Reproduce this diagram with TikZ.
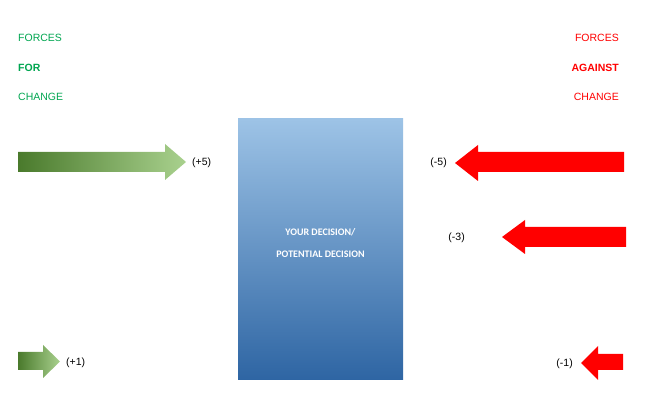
\documentclass[tikz,border=0pt]{standalone}
\usepackage{fontspec}
\setmainfont{Liberation Sans}
\newfontfamily\boxfont{Carlito}
\definecolor{fgreen}{HTML}{00A550}
\definecolor{fred}{HTML}{FF0000}
\definecolor{dkg}{HTML}{4A7A2C}
\definecolor{ltg}{HTML}{A9D18E}
\definecolor{topb}{HTML}{9DC3E6}
\definecolor{botb}{HTML}{2E65A3}
\begin{document}
\begin{tikzpicture}[x=1pt,y=-1pt,
  lbl/.style={inner sep=0pt,font=\fontsize{10.5}{12}\selectfont},
  gl/.style={lbl,text=fgreen,anchor=west},
  rl/.style={lbl,text=fred,anchor=east},
  garrow/.style={left color=dkg,right color=ltg,draw=none},
  rarrow/.style={fill=fred,draw=none}]
\useasboundingbox (0,0) rectangle (662,419);
\node[gl] (l1) at (18,38) {FORCES};
\node[gl,font=\fontsize{10.5}{12}\selectfont\bfseries] (l2) at (18,68) {FOR};
\node[gl] (l3) at (18,97) {CHANGE};
\node[rl] (r1) at (619,38) {FORCES};
\node[rl,font=\fontsize{10.5}{12}\selectfont\bfseries] (r2) at (619,68) {AGAINST};
\node[rl] (r3) at (619,97) {CHANGE};
\shade[top color=topb,bottom color=botb] (238,119) rectangle (403,380);
\node[text=white,font=\boxfont\bfseries\fontsize{10}{12}\selectfont,align=center] (dec) at (320.5,243)
  {YOUR DECISION/\\[10pt]POTENTIAL DECISION};
% green arrows
\path[garrow] (18,152) -- (165,152) -- (165,144) -- (186,162) -- (165,180) -- (165,172) -- (18,172) -- cycle;
\node[lbl,anchor=west] (p5) at (192,163) {(+5)};
\path[garrow] (18,352) -- (43,352) -- (43,345) -- (60,361.5) -- (43,378) -- (43,370) -- (18,370) -- cycle;
\node[lbl,anchor=west] (p1) at (66,363) {(+1)};
% red arrows
\path[rarrow] (624,152) -- (478,152) -- (478,145) -- (455,163) -- (478,181) -- (478,172) -- (624,172) -- cycle;
\node[lbl,anchor=east] (m5) at (447,163) {(-5)};
\path[rarrow] (626,227) -- (525,227) -- (525,220) -- (502,237) -- (525,254) -- (525,247) -- (626,247) -- cycle;
\node[lbl,anchor=east] (m3) at (465,238) {(-3)};
\path[rarrow] (623,354) -- (598,354) -- (598,346) -- (581,363) -- (598,380) -- (598,370) -- (623,370) -- cycle;
\node[lbl,anchor=east] (m1) at (573,364) {(-1)};
\end{tikzpicture}
\end{document}
